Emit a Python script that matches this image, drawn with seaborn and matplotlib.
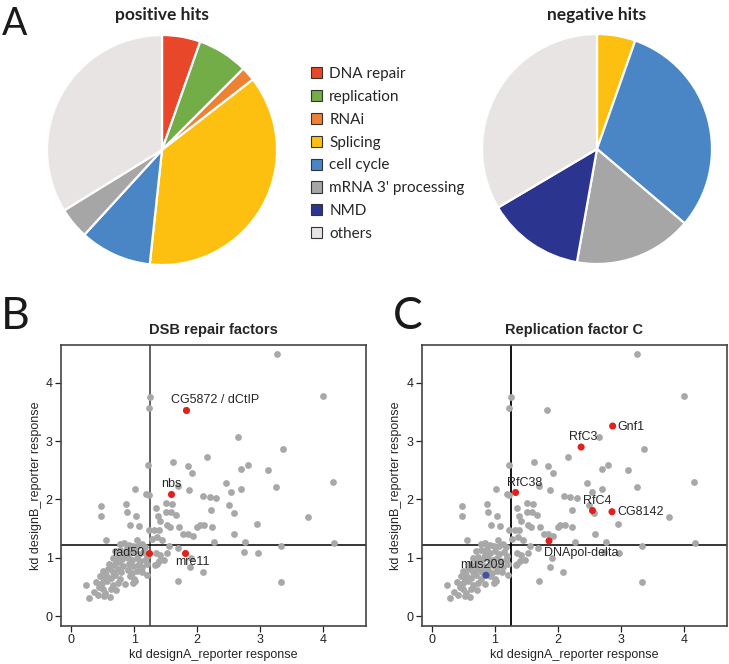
import matplotlib
matplotlib.use("Agg")
import matplotlib.pyplot as plt
import seaborn as sns
import pandas as pd
from matplotlib.patches import Patch

# ---------------- data ----------------
categories = ["DNA repair", "replication", "RNAi", "Splicing", "cell cycle",
              "mRNA 3' processing", "NMD", "others"]
cat_colors = ["#E9472A", "#72AD48", "#EE8232", "#FDC010", "#4A86C6",
              "#A6A6A6", "#2B3590", "#E8E4E4"]
positive_hits = [5.4, 7.1, 2.0, 37.2, 10.1, 4.4, 0.0, 33.8]
negative_hits = [0.0, 0.0, 0.0, 5.4, 30.8, 16.6, 13.7, 33.5]

gray_x = [3.26, 4.00, 1.25, 1.23, 2.65, 3.37, 2.16, 1.62, 1.22, 1.85, 1.92, 2.80,
          2.70, 3.12, 4.16, 3.25, 2.46, 2.70, 2.54, 1.87, 1.70, 2.10, 2.20, 2.30,
          2.50, 2.58, 3.76, 2.95, 2.22, 2.23, 2.59, 2.00, 2.04, 2.11, 1.93, 1.78,
          1.71, 1.57, 1.52, 1.67, 1.59, 1.51, 1.35, 1.38, 1.41, 1.51, 1.60, 1.23,
          1.19, 1.02, 0.87, 0.48, 0.48, 0.89, 1.03, 0.94, 1.08, 1.23, 1.32, 1.39,
          1.37, 0.56, 2.27, 2.76, 3.33, 4.17, 2.74, 2.97, 1.69, 1.56, 1.53, 1.90,
          1.88, 2.09, 1.70, 3.33, 1.35, 1.41, 1.36, 1.40, 1.21, 1.21, 1.85, 1.83,
          1.28, 1.45, 1.48, 1.33,
          1.05, 0.78, 0.84, 0.92, 0.98, 1.06, 1.13, 1.18,
          0.70, 0.78, 0.86, 0.93, 1.00, 1.07, 1.14, 1.20, 0.88,
          0.66, 0.74, 0.81, 0.90, 0.97, 1.04, 1.10, 1.17, 0.85,
          0.60, 0.68, 0.76, 0.83, 0.92, 0.99, 1.06, 1.13, 0.72,
          0.50, 0.58, 0.66, 0.74, 0.80, 0.90, 0.96, 1.04, 1.12, 0.62,
          0.46, 0.55, 0.63, 0.70, 0.78, 0.93, 1.00, 0.52,
          0.40, 0.49, 0.57, 0.66, 0.74, 0.85, 0.99,
          0.24, 0.36, 0.50, 0.54, 0.63, 0.72, 0.45,
          0.29, 0.53, 0.61, 0.42, 1.02]
gray_y = [4.50, 3.77, 3.76, 3.57, 3.08, 2.87, 2.73, 2.64, 2.59, 2.57, 2.45, 2.59,
          2.52, 2.51, 2.30, 2.22, 2.29, 2.18, 2.13, 2.16, 2.23, 2.06, 2.04, 2.02,
          1.91, 1.76, 1.70, 1.58, 1.82, 1.52, 1.40, 1.53, 1.57, 1.56, 1.38, 1.40,
          1.52, 1.52, 1.56, 1.73, 1.78, 1.78, 1.86, 1.72, 1.63, 1.94, 1.93, 2.08,
          2.10, 2.18, 1.93, 1.89, 1.72, 1.79, 1.72, 1.57, 1.54, 1.48, 1.48, 1.48,
          1.36, 1.30, 1.27, 1.27, 1.20, 1.26, 1.10, 1.08, 1.17, 1.21, 1.08, 1.00,
          0.84, 0.76, 0.61, 0.59, 1.08, 1.05, 0.89, 0.94, 0.89, 0.70, 1.41, 3.54,
          1.32, 1.30, 0.96, 0.87,
          1.30, 1.24, 1.25, 1.22, 1.20, 1.21, 1.24, 1.18,
          1.12, 1.14, 1.10, 1.08, 1.12, 1.06, 1.10, 1.03, 1.17,
          1.00, 1.02, 0.98, 1.00, 0.96, 0.99, 0.95, 0.97, 1.05,
          0.90, 0.88, 0.92, 0.86, 0.90, 0.86, 0.88, 0.84, 0.95,
          0.78, 0.80, 0.76, 0.81, 0.75, 0.79, 0.74, 0.78, 0.76, 0.84,
          0.68, 0.71, 0.66, 0.70, 0.64, 0.68, 0.64, 0.62,
          0.58, 0.56, 0.60, 0.54, 0.57, 0.55, 0.56,
          0.53, 0.42, 0.47, 0.40, 0.46, 0.44, 0.50,
          0.31, 0.35, 0.33, 0.36, 0.61]

dsb_genes = ["CG5872 / dCtIP", "nbs", "rad50", "mre11"]
dsb_x = [1.83, 1.59, 1.23, 1.81]
dsb_y = [3.54, 2.10, 1.09, 1.08]

rfc_genes = ["Gnf1", "RfC3", "RfC38", "RfC4", "CG8142", "DNApol-delta", "mus209"]
rfc_x = [2.87, 2.37, 1.33, 2.55, 2.86, 1.86, 0.86]
rfc_y = [3.26, 2.90, 2.12, 1.81, 1.79, 1.29, 0.70]
rfc_group = ["hit", "hit", "hit", "hit", "hit", "hit", "other"]

x_threshold = 1.25
y_threshold = 1.22
ticks = [0, 1, 2, 3, 4]

# ---------------- figure ----------------
sns.set_style("white")
plt.rcParams["font.family"] = ["Liberation Sans", "DejaVu Sans"]
ARIAL = ["Liberation Sans", "DejaVu Sans"]
LATO = ["Lato", "DejaVu Sans"]

W, H = 729, 664
fig = plt.figure(figsize=(W / 100, H / 100), dpi=100)


def px_rect(left, top, right, bottom):
    return [left / W, 1 - bottom / H, (right - left) / W, (bottom - top) / H]


# ----- pies -----
def draw_pie(cx, cy, r, values, title):
    ax = fig.add_axes(px_rect(cx - r, cy - r, cx + r, cy + r))
    vals = [v for v in values if v > 0]
    cols = [c for v, c in zip(values, cat_colors) if v > 0]
    ax.pie(vals, colors=cols, startangle=90, counterclock=False,
           wedgeprops=dict(edgecolor="white", linewidth=1.6))
    ax.set_xlim(-1.0, 1.0)
    ax.set_ylim(-1.0, 1.0)
    fig.text(cx / W, 1 - 15 / H, title, ha="center", va="center",
             fontsize=12.5, fontweight="bold", family=LATO, color="#222222")


draw_pie(162, 150, 115, positive_hits, "positive hits")
draw_pie(597, 149, 115, negative_hits, "negative hits")

handles = [Patch(facecolor=c, edgecolor="#333333", linewidth=0.8) for c in cat_colors]
fig.legend(handles, categories, loc="upper left",
           bbox_to_anchor=(311 / W, 1 - 67 / H), frameon=False,
           prop={"family": LATO, "size": 11},
           handlelength=0.75, handleheight=0.75, handletextpad=0.45,
           labelspacing=0.58, borderpad=0, borderaxespad=0)

# ----- scatter panels -----
gray_df = pd.DataFrame({"x": gray_x, "y": gray_y})


def scatter_panel(rect, title, line_color):
    ax = fig.add_axes(rect)
    sns.scatterplot(data=gray_df, x="x", y="y", ax=ax, color="#A8A8A8",
                    s=24, linewidth=0, zorder=2, legend=False)
    ax.axvline(x_threshold, color=line_color, lw=1.3, zorder=1)
    ax.axhline(y_threshold, color="black", lw=1.1, zorder=1)
    ax.set_xlim(-0.16, 4.68)
    ax.set_ylim(-0.17, 4.65)
    ax.set_xticks(ticks)
    ax.set_yticks(ticks)
    ax.set_xticklabels([str(t) for t in ticks], family=ARIAL)
    ax.set_yticklabels([str(t) for t in ticks], family=ARIAL)
    ax.tick_params(axis="both", which="both", length=4, width=0.9,
                   direction="out", labelsize=9, pad=2, colors="#222222",
                   bottom=True, left=True)
    for sp in ax.spines.values():
        sp.set_color("#444444")
        sp.set_linewidth(1.2)
    ax.set_title(title, fontsize=10.5, fontweight="bold", pad=8, family=ARIAL)
    return ax


def finish_labels(ax):
    ax.set_xlabel("kd designA_reporter response", fontsize=9, labelpad=2,
                  family=ARIAL)
    ax.set_ylabel("kd designB_reporter response", fontsize=9, labelpad=3,
                  family=ARIAL)


axB = scatter_panel(px_rect(61, 345, 366, 626), "DSB repair factors", "#555555")
dsb_df = pd.DataFrame({"x": dsb_x, "y": dsb_y, "gene": dsb_genes})
sns.scatterplot(data=dsb_df, x="x", y="y", ax=axB, color="#E3201C", s=26,
                linewidth=0, zorder=3, legend=False)
finish_labels(axB)
dsb_label_pos = {"CG5872 / dCtIP": (2.29, 3.70, "center"),
                 "nbs": (1.59, 2.27, "center"),
                 "rad50": (1.16, 1.08, "right"),
                 "mre11": (1.92, 0.92, "center")}
for g in dsb_genes:
    tx, ty, ha = dsb_label_pos[g]
    axB.text(tx, ty, g, fontsize=9, ha=ha, va="center", zorder=4, family=ARIAL)

axC = scatter_panel(px_rect(421.7, 345, 726.7, 626), "Replication factor C", "black")
rfc_df = pd.DataFrame({"x": rfc_x, "y": rfc_y, "gene": rfc_genes, "group": rfc_group})
sns.scatterplot(data=rfc_df, x="x", y="y", hue="group", ax=axC,
                palette={"hit": "#E3201C", "other": "#3F55A8"}, s=26,
                linewidth=0, zorder=3, legend=False)
finish_labels(axC)
rfc_label_pos = {"Gnf1": (2.95, 3.25, "left"),
                 "RfC3": (2.41, 3.07, "center"),
                 "RfC38": (1.48, 2.28, "center"),
                 "RfC4": (2.63, 1.98, "center"),
                 "CG8142": (2.95, 1.79, "left"),
                 "DNApol-delta": (2.37, 1.08, "center"),
                 "mus209": (0.81, 0.87, "center")}
for g in rfc_genes:
    tx, ty, ha = rfc_label_pos[g]
    axC.text(tx, ty, g, fontsize=9, ha=ha, va="center", zorder=4, family=ARIAL)

# ----- panel letters -----
fig.text(2 / W, 1 - 6 / H, "A", fontsize=27, va="top", ha="left",
         family=LATO, color="#1a1a1a")
fig.text(1 / W, 1 - 296 / H, "B", fontsize=32, va="top", ha="left",
         family=LATO, color="#1a1a1a")
fig.text(393 / W, 1 - 296 / H, "C", fontsize=32, va="top", ha="left",
         family=LATO, color="#1a1a1a")

fig.savefig("out.png", dpi=100)
